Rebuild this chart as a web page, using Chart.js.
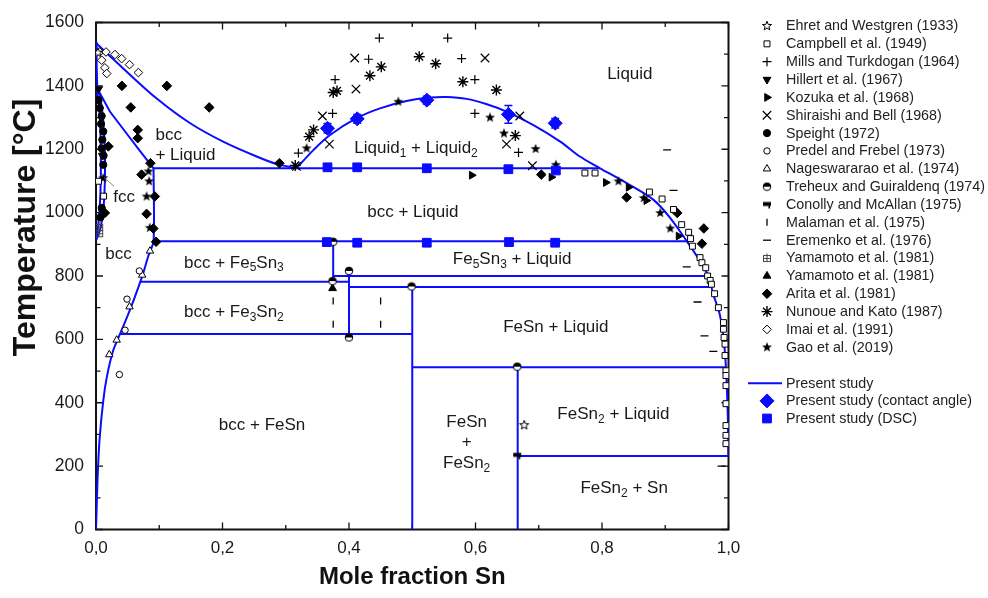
<!DOCTYPE html>
<html><head><meta charset="utf-8">
<script src="https://cdn.jsdelivr.net/npm/chart.js@4.4.1/dist/chart.umd.min.js"></script>
<style>html,body{margin:0;padding:0;background:#fff;}canvas{display:block;}</style>
</head><body>
<canvas id="c" width="988" height="598"></canvas>
<script>
// ---------------- axis ticks ----------------
const xTicks = [0, 0.2, 0.4, 0.6, 0.8, 1.0];
const yTicks = [0, 200, 400, 600, 800, 1000, 1200, 1400, 1600];

// ---------------- phase boundaries (x = mole fraction Sn, y = T °C) ----------------
const liquidusFe   = [[0,1535],[0.043,1455],[0.096,1360],[0.149,1282],[0.201,1224],[0.254,1177],[0.286,1153],[0.317,1140]];
const solidusBcc   = [[0,1538],[0.001,1470],[0.002,1392],[0.022,1319],[0.046,1256],[0.070,1193],[0.091,1140]];
const solvusBcc    = [[0.091,1140],[0.091,910],[0.0827,863],[0.0748,810],[0.0696,779],[0.059,721],[0.051,680],[0.038,617],[0.027,564],[0.017,480],[0.0115,407],[0.0055,281],[0.0024,156],[0.0005,30],[0,0]];
const gammaOuter   = [[0,1394],[0.006,1370],[0.011,1300],[0.014,1200],[0.014,1100],[0.012,1020],[0.007,950],[0,912]];
const gammaInner   = [[0,1394],[0.003,1365],[0.006,1300],[0.0075,1200],[0.0075,1100],[0.006,1020],[0.003,950],[0,912]];
const missGap      = [[0.317,1140],[0.344,1198],[0.370,1245],[0.412,1298],[0.449,1329],[0.491,1352],[0.528,1363],[0.554,1365],[0.586,1359],[0.618,1342],[0.649,1319],[0.691,1277],[0.734,1224],[0.765,1177],[0.797,1140]];
const liquidusSn   = [[0.797,1140],[0.839,1093],[0.881,1041],[0.908,983],[0.934,910],[0.955,847],[0.968,800],[0.976,742],[0.986,680],[0.992,606],[0.996,512],[0.999,350],[1.0,232]];
const h1140 = [[0.091,1140],[0.797,1140]];
const h910  = [[0.091,910],[0.934,910]];
const h800  = [[0.375,800],[0.968,800]];
const h782  = [[0.0696,782],[0.4,782]];
const h765  = [[0.4,765],[0.9725,765]];
const h617  = [[0.038,617],[0.5,617]];
const h512  = [[0.5,512],[0.996,512]];
const h232  = [[0.6667,232],[1.0,232]];
const vFe5Sn3 = [[0.375,910],[0.375,782]];
const vFe3Sn2 = [[0.4,800],[0.4,617]];
const vFeSn   = [[0.5,765],[0.5,0]];
const vFeSn2  = [[0.6667,512],[0.6667,0]];

// ---------------- literature data ----------------
const ehret     = [[0.677,329],[0.003,1505]];
const campbell  = [[0.004,1099],[0.012,1052],[0.773,1125],[0.789,1125],[0.875,1065],[0.895,1043],[0.913,1010],[0.926,962],[0.937,938],[0.940,918],[0.943,894],[0.955,858],[0.958,842],[0.964,826],[0.967,800],[0.971,786],[0.973,774],[0.978,744],[0.984,700],[0.992,653],[0.992,632],[0.993,606],[0.9945,585],[0.9945,549],[0.996,501],[0.996,486],[0.996,454],[0.996,397],[0.996,328],[0.996,297],[0.996,271]];
const mills     = [[0.448,1551],[0.556,1551],[0.431,1484],[0.578,1486],[0.378,1420],[0.599,1420],[0.374,1313],[0.599,1313],[0.320,1188],[0.668,1190]];
const hillert   = [[0.004,1390],[0.010,1180]];
const kozuka    = [[0.594,1118],[0.720,1112],[0.806,1095],[0.842,1080],[0.870,1038],[0.921,926]];
const shiraishi = [[0.409,1488],[0.615,1488],[0.411,1390],[0.358,1305],[0.369,1216],[0.317,1146],[0.670,1305],[0.649,1216],[0.690,1148]];
const speight   = [[0.004,1355],[0.006,1330],[0.009,1305],[0.008,1280],[0.0115,1256],[0.010,1230],[0.009,1203],[0.012,1180],[0.0115,1151],[0.009,1015],[0.012,1000],[0.007,985]];
const predel    = [[0.0685,816],[0.049,727],[0.046,629],[0.037,489]];
const nages     = [[0.0854,879],[0.073,803],[0.053,703],[0.0327,598],[0.021,552]];
const treheux   = [[0.375,908],[0.400,816],[0.374,784],[0.499,767],[0.400,606],[0.666,514]];
const conolly   = [[0.666,234]];
const malaman   = [[0.375,721],[0.375,648],[0.45,721],[0.45,648]];
const eremenko  = [[0.903,1198],[0.913,1070],[0.934,829],[0.951,718],[0.962,611],[0.976,562],[0.989,200]];
const yamamotoA = [[0.005,955],[0.005,935]];
const yamamotoB = [[0.374,761]];
const arita     = [[0.041,1400],[0.112,1400],[0.055,1332],[0.179,1332],[0.066,1261],[0.066,1235],[0.086,1156],[0.072,1120],[0.093,1051],[0.290,1156],[0.0195,1209],[0.080,996],[0.0906,950],[0.095,908],[0.014,999],[0.704,1120],[0.839,1048],[0.919,999],[0.961,950],[0.958,902]];
const nunoue    = [[0.511,1492],[0.537,1470],[0.451,1460],[0.433,1432],[0.580,1413],[0.375,1379],[0.381,1384],[0.633,1387],[0.344,1261],[0.337,1240],[0.663,1243],[0.315,1149]];
const imai      = [[0.006,1507],[0.0158,1507],[0.030,1499],[0.0406,1486],[0.053,1467],[0.067,1442],[0.009,1481],[0.014,1457],[0.017,1439]];
const gao       = [[0.333,1203],[0.478,1350],[0.623,1300],[0.645,1250],[0.695,1201],[0.727,1151],[0.083,1130],[0.084,1099],[0.080,1051],[0.085,952],[0.826,1099],[0.866,1046],[0.892,999],[0.908,950],[0.0115,1109]];

// ---------------- present study ----------------
const contactAngle    = [[0.366,1266],[0.413,1296],[0.523,1355],[0.652,1310],[0.726,1282]];
const contactAngleErr = [15, 14, 12, 28, 15];
const dsc = [[0.366,1143],[0.413,1143],[0.523,1140],[0.652,1137],[0.727,1133],[0.365,907],[0.413,905],[0.523,905],[0.653,907],[0.726,905]];

// ---------------- styles ----------------
const FF = '"Liberation Sans", Arial, Helvetica, sans-serif';
const BLUE = '#0b0bff';
Chart.defaults.font.family = FF;

function mk(w,h,fn){const c=document.createElement('canvas');c.width=w;c.height=h;fn(c.getContext('2d'),w/2,h/2);return c;}
function starPath(g,cx,cy,R,r){g.beginPath();for(let i=0;i<10;i++){const a=-Math.PI/2+i*Math.PI/5;const rr=i%2?r:R;g.lineTo(cx+rr*Math.cos(a),cy+rr*Math.sin(a));}g.closePath();}
const imgStarOpen = mk(12,12,(g,cx,cy)=>{starPath(g,cx,cy,4.8,2.0);g.fillStyle='#fff';g.fill();g.strokeStyle='#000';g.lineWidth=1;g.stroke();});
const imgStarFill = mk(12,12,(g,cx,cy)=>{starPath(g,cx,cy,5.2,2.2);g.fillStyle='#000';g.fill();});
const imgHalf = mk(10,10,(g,cx,cy)=>{g.beginPath();g.arc(cx,cy,3.8,0,2*Math.PI);g.fillStyle='#fff';g.fill();g.beginPath();g.arc(cx,cy,3.8,Math.PI,2*Math.PI);g.closePath();g.fillStyle='#000';g.fill();g.beginPath();g.arc(cx,cy,3.8,0,2*Math.PI);g.strokeStyle='#000';g.lineWidth=1;g.stroke();});
const imgFlag = mk(10,10,(g)=>{g.fillStyle='#000';g.fillRect(1,2.5,8,4);g.fillRect(6.5,6,1.5,3);});
const imgHash = mk(10,10,(g)=>{g.strokeStyle='#444';g.lineWidth=1;g.strokeRect(1.5,2.5,7,6);g.beginPath();g.moveTo(5,0.5);g.lineTo(5,9);g.moveTo(1,5.5);g.lineTo(9,5.5);g.stroke();});

const pts = a => a.map(p=>({x:p[0],y:p[1]}));
function lineDS(arr, tension){ return {type:'scatter', data:pts(arr), showLine:true, borderColor:BLUE, borderWidth:2, pointRadius:0, tension:tension||0, order:5}; }
function markDS(label, arr, st){ return Object.assign({type:'scatter', label, data:pts(arr), showLine:false, order:2,
  pointBackgroundColor:'#000', pointBorderColor:'#000', pointBorderWidth:1, pointRadius:4, pointHoverRadius:4, legend:true}, st); }

const WHITE = {pointBackgroundColor:'#fff'};
const datasets = [
  lineDS(liquidusFe,0.3), lineDS(solidusBcc,0), lineDS(solvusBcc,0.25), lineDS(gammaOuter,0.3), lineDS(gammaInner,0.3),
  lineDS(missGap,0.35), lineDS(liquidusSn,0.3),
  lineDS(h1140), lineDS(h910), lineDS(h800), lineDS(h782), lineDS(h765), lineDS(h617), lineDS(h512), lineDS(h232),
  lineDS(vFe5Sn3), lineDS(vFe3Sn2), lineDS(vFeSn), lineDS(vFeSn2),
  markDS('Ehret and Westgren (1933)', ehret, {pointStyle:imgStarOpen}),
  markDS('Campbell et al. (1949)', campbell, Object.assign({pointStyle:'rect', pointRadius:4.2}, WHITE)),
  markDS('Mills and Turkdogan (1964)', mills, {pointStyle:'cross', pointRadius:4.5, pointBorderWidth:1.2}),
  markDS('Hillert et al. (1967)', hillert, {pointStyle:'triangle', pointRotation:180, pointRadius:4.5}),
  markDS('Kozuka et al. (1968)', kozuka, {pointStyle:'triangle', pointRotation:90, pointRadius:4.5}),
  markDS('Shiraishi and Bell (1968)', shiraishi, {pointStyle:'crossRot', pointRadius:6, pointBorderWidth:1.2}),
  markDS('Speight (1972)', speight, {pointStyle:'circle', pointRadius:3.6}),
  markDS('Predel and Frebel (1973)', predel, Object.assign({pointStyle:'circle', pointRadius:3.2}, WHITE)),
  markDS('Nageswararao et al. (1974)', nages, Object.assign({pointStyle:'triangle', pointRadius:4.3}, WHITE)),
  markDS('Treheux and Guiraldenq (1974)', treheux, {pointStyle:imgHalf}),
  markDS('Conolly and McAllan (1975)', conolly, {pointStyle:imgFlag}),
  markDS('Malaman et al. (1975)', malaman, {pointStyle:'line', pointRotation:90, pointRadius:3.5, pointBorderWidth:1.3}),
  markDS('Eremenko et al. (1976)', eremenko, {pointStyle:'line', pointRadius:4, pointBorderWidth:1.3}),
  markDS('Yamamoto et al. (1981)', yamamotoA, {pointStyle:imgHash}),
  markDS('Yamamoto et al. (1981)', yamamotoB, {pointStyle:'triangle', pointRadius:4.5}),
  markDS('Arita et al. (1981)', arita, {pointStyle:'rectRot', pointRadius:4.8}),
  markDS('Nunoue and Kato (1987)', nunoue, {pointStyle:'star', pointRadius:5.5, pointBorderWidth:1.4}),
  markDS('Imai et al. (1991)', imai, Object.assign({pointStyle:'rectRot', pointRadius:4.3}, WHITE)),
  markDS('Gao et al. (2019)', gao, {pointStyle:imgStarFill}),
  Object.assign(markDS('Present study (contact angle)', contactAngle, {pointStyle:'rectRot', pointRadius:7, pointBackgroundColor:BLUE, pointBorderColor:BLUE, order:0, legend:false}), {errors:contactAngleErr, present:1}),
  Object.assign(markDS('Present study (DSC)', dsc, {pointStyle:'rect', pointRadius:6.2, pointBackgroundColor:BLUE, pointBorderColor:BLUE, order:0, legend:false}), {present:2})
];

// ---------------- region labels (data coords) ----------------
const regionLabels = [
  {p:[['Liquid',0]], x:0.844, y:1438},
  {p:[['bcc',0]], x:0.094, y:1243, align:'left'},
  {p:[['+ Liquid',0]], x:0.094, y:1180, align:'left'},
  {p:[['fcc',0]], x:0.0443, y:1048},
  {p:[['bcc',0]], x:0.0356, y:869},
  {p:[['Liquid',0],['1',1],[' + Liquid',0],['2',1]], x:0.506, y:1203},
  {p:[['bcc + Liquid',0]], x:0.501, y:1001},
  {p:[['bcc + Fe',0],['5',1],['Sn',0],['3',1]], x:0.218, y:841},
  {p:[['Fe',0],['5',1],['Sn',0],['3',1],[' + Liquid',0]], x:0.658, y:852},
  {p:[['bcc + Fe',0],['3',1],['Sn',0],['2',1]], x:0.218, y:684},
  {p:[['FeSn + Liquid',0]], x:0.727, y:637},
  {p:[['bcc + FeSn',0]], x:0.2625, y:329},
  {p:[['FeSn',0]], x:0.586, y:339},
  {p:[['+',0]], x:0.586, y:276},
  {p:[['FeSn',0],['2',1]], x:0.586, y:208},
  {p:[['FeSn',0],['2',1],[' + Liquid',0]], x:0.818, y:363},
  {p:[['FeSn',0],['2',1],[' + Sn',0]], x:0.835, y:130}
];
const fccPointer = [[0.0126,1111],[0.0285,1083]];
const yTitle = 'Temperature [°C]';

// ---------------- plugins ----------------
const framePlugin = {
  id:'frame',
  beforeDatasetsDraw(chart){
    const {ctx, chartArea:a, scales:{x,y}} = chart;
    ctx.save();
    ctx.strokeStyle='#111'; ctx.lineWidth=1.3;
    for (let v=0; v<=1.0001; v+=0.1){
      const px=x.getPixelForValue(v); const major=Math.round(v*10)%2===0; const L=major?7:4.5;
      ctx.beginPath(); ctx.moveTo(px,a.bottom); ctx.lineTo(px,a.bottom-L); ctx.moveTo(px,a.top); ctx.lineTo(px,a.top+L); ctx.stroke();
    }
    for (let v=0; v<=1600; v+=100){
      const py=y.getPixelForValue(v); const major=v%200===0; const L=major?7:4.5;
      ctx.beginPath(); ctx.moveTo(a.left,py); ctx.lineTo(a.left+L,py); ctx.moveTo(a.right,py); ctx.lineTo(a.right-L,py); ctx.stroke();
    }
    ctx.lineWidth=2; ctx.strokeRect(a.left,a.top,a.right-a.left,a.bottom-a.top);
    // y axis title
    ctx.translate(26, 227.5); ctx.rotate(-Math.PI/2);
    ctx.font='bold 32px '+FF; ctx.fillStyle='#111'; ctx.textAlign='center'; ctx.textBaseline='middle';
    ctx.fillText(yTitle, 0, 0);
    ctx.restore();
  },
  afterDatasetsDraw(chart){
    const {ctx, scales:{x,y}} = chart;
    ctx.save();
    chart.data.datasets.forEach(ds=>{
      if(!ds.errors) return;
      ctx.strokeStyle=BLUE; ctx.lineWidth=1.5;
      ds.data.forEach((d,i)=>{
        const px=x.getPixelForValue(d.x), y1=y.getPixelForValue(d.y-ds.errors[i]), y2=y.getPixelForValue(d.y+ds.errors[i]);
        ctx.beginPath(); ctx.moveTo(px,y1); ctx.lineTo(px,y2);
        ctx.moveTo(px-4,y1); ctx.lineTo(px+4,y1); ctx.moveTo(px-4,y2); ctx.lineTo(px+4,y2); ctx.stroke();
      });
    });
    ctx.strokeStyle='#666'; ctx.lineWidth=0.8; ctx.beginPath();
    ctx.moveTo(x.getPixelForValue(fccPointer[0][0]), y.getPixelForValue(fccPointer[0][1]));
    ctx.lineTo(x.getPixelForValue(fccPointer[1][0]), y.getPixelForValue(fccPointer[1][1])); ctx.stroke();
    ctx.fillStyle='#1a1a1a'; ctx.textBaseline='middle';
    const fs=17, sfs=12;
    regionLabels.forEach(L=>{
      let w=0;
      L.p.forEach(([s,sub])=>{ctx.font=(sub?sfs:fs)+'px '+FF; w+=ctx.measureText(s).width;});
      let px=x.getPixelForValue(L.x); const py=y.getPixelForValue(L.y);
      if(L.align!=='left') px-=w/2;
      ctx.textAlign='left';
      L.p.forEach(([s,sub])=>{ctx.font=(sub?sfs:fs)+'px '+FF; ctx.fillText(s,px,py+(sub?5:0)); px+=ctx.measureText(s).width;});
    });
    ctx.restore();
  },
  afterDraw(chart){
    const {ctx} = chart;
    const H = Chart.helpers;
    ctx.save();
    ctx.font='14.3px '+FF; ctx.textBaseline='middle'; ctx.textAlign='left';
    const sx=767, tx=786; let yy=26; const dy=17.85;
    chart.data.datasets.forEach(ds=>{
      if(!ds.legend) return;
      ctx.fillStyle=ds.pointBackgroundColor; ctx.strokeStyle=ds.pointBorderColor; ctx.lineWidth=ds.pointBorderWidth;
      H.drawPoint(ctx,{pointStyle:ds.pointStyle, rotation:ds.pointRotation||0, radius:ds.pointRadius, borderWidth:ds.pointBorderWidth}, sx, yy);
      ctx.fillStyle='#222'; ctx.fillText(ds.label, tx, yy+0.5);
      yy+=dy;
    });
    let py=383.3;
    ctx.strokeStyle=BLUE; ctx.lineWidth=2; ctx.beginPath(); ctx.moveTo(748,py); ctx.lineTo(782,py); ctx.stroke();
    ctx.fillStyle='#222'; ctx.fillText('Present study', tx, py+0.5);
    chart.data.datasets.filter(d=>d.present).sort((a,b)=>a.present-b.present).forEach(ds=>{
      py+=17.6;
      ctx.fillStyle=BLUE; ctx.strokeStyle=BLUE; ctx.lineWidth=1;
      H.drawPoint(ctx,{pointStyle:ds.pointStyle, rotation:0, radius:ds.pointRadius, borderWidth:1}, sx, py);
      ctx.fillStyle='#222'; ctx.fillText(ds.label, tx, py+0.5);
    });
    ctx.restore();
  }
};

new Chart(document.getElementById('c'), {
  type:'scatter',
  data:{datasets},
  options:{
    responsive:false, animation:false, devicePixelRatio:1,
    layout:{padding:{left:0, right:259.5, top:20.5, bottom:0}},
    plugins:{legend:{display:false}, tooltip:{enabled:false}},
    scales:{
      x:{type:'linear', min:0, max:1,
        afterBuildTicks(s){ s.ticks = xTicks.map(v=>({value:v})); },
        ticks:{font:{size:17}, color:'#1a1a1a', padding:9, maxRotation:0, callback:v=>Number(v).toFixed(1).replace('.',',')},
        grid:{display:false, drawTicks:false}, border:{display:false},
        title:{display:true, text:'Mole fraction Sn', font:{size:24, weight:'bold'}, color:'#111', padding:{top:0,bottom:6}},
        afterFit(s){ s.height = 598-529.5; }
      },
      y:{type:'linear', min:0, max:1600,
        afterBuildTicks(s){ s.ticks = yTicks.map(v=>({value:v})); },
        ticks:{font:{size:17.5}, color:'#1a1a1a', padding:12, callback:v=>String(v)},
        grid:{display:false, drawTicks:false}, border:{display:false},
        title:{display:false},
        afterFit(s){ s.width = 96; }
      }
    }
  },
  plugins:[framePlugin]
});
</script></body></html>
